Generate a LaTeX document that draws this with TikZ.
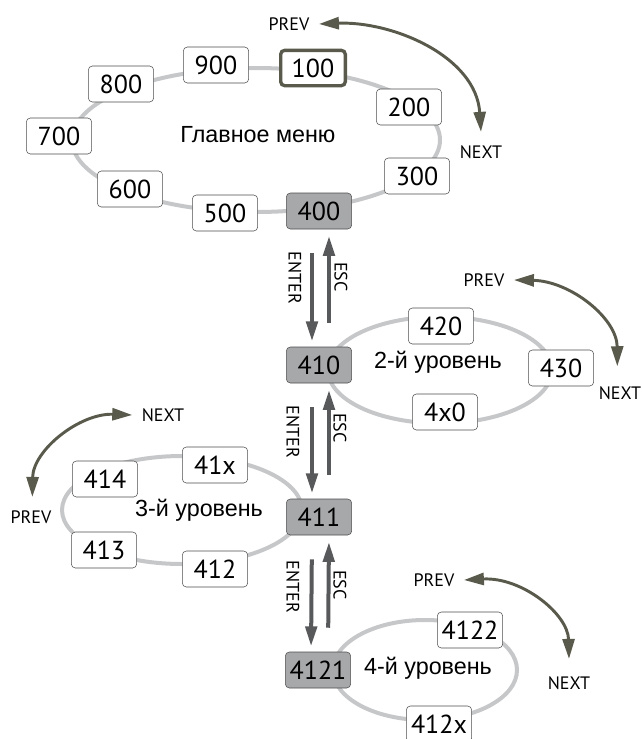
\documentclass[tikz,border=0pt]{standalone}
\usepackage{fontspec}
\setmainfont{PT Sans}
\newfontfamily\titlefont{Liberation Sans}
\usepackage{tikz}
\usetikzlibrary{arrows.meta, positioning, calc}
\usepackage{xcolor}
\definecolor{boxgray}{HTML}{A7A8AA}
\definecolor{ringgray}{HTML}{C6C7C9}
\definecolor{navdark}{HTML}{595A4B}
\definecolor{keygray}{HTML}{58595B}

\begin{document}
\begin{tikzpicture}[x=0.75pt, y=-0.75pt,
    item/.style={draw=black!70, rounded corners=3pt, fill=white, minimum width=49pt, minimum height=27pt, inner sep=0pt, font=\fontsize{19.5}{22}\selectfont},
    active/.style={item, fill=boxgray},
    current/.style={item, draw=navdark, line width=2.5pt, minimum width=48.5pt, minimum height=26.5pt},
    ring/.style={draw=ringgray, line width=3pt},
    title/.style={font=\titlefont\fontsize{17.5}{20}\selectfont, text height=13pt, text depth=4pt},
    navlabel/.style={font=\fontsize{13.5}{15}\selectfont, inner sep=7pt},
    nav/.style={draw=navdark, line width=2.2pt, {Triangle[length=15pt,width=9pt]}-{Triangle[length=15pt,width=9pt]}},
    key/.style={draw=keygray, line width=3pt, -{Triangle[length=15pt,width=8.5pt]}},
    keylabel/.style={font=\fontsize{13.5}{15}\selectfont, rotate=-90, inner sep=0pt}
]
    \useasboundingbox (0,0) rectangle (642,739);

    % Rings
    \draw[ring] (256,140) ellipse [x radius=138pt, y radius=54pt];
    \draw[ring] (440,370) ellipse [x radius=84pt, y radius=40pt];
    \draw[ring] (182,510) ellipse [x radius=90pt, y radius=40.5pt];
    \draw[ring] (425,670) ellipse [x radius=69pt, y radius=37.5pt];

    % Main menu
    \node[title] (main) at (258,136) {Главное меню};
    \node[current] (b100) at (313,68) {100};
    \node[item] (b200) at (409,107) {200};
    \node[item] (b300) at (417,176) {300};
    \node[active] (b400) at (319,211) {400};
    \node[item] (b500) at (225,213) {500};
    \node[item] (b600) at (130,189) {600};
    \node[item] (b700) at (59,136) {700};
    \node[item] (b800) at (121,84) {800};
    \node[item] (b900) at (216,65) {900};

    % Level 2
    \node[title] (lev2) at (438,362) {2-й уровень};
    \node[active] (b410) at (319,365) {410};
    \node[item] (b420) at (441,326) {420};
    \node[item] (b430) at (561,368) {430};
    \node[item] (b4x0) at (445,412) {4x0};

    % Level 3
    \node[title] (lev3) at (199,510) {3-й уровень};
    \node[active] (b411) at (319,517) {411};
    \node[item] (b41x) at (215,465) {41x};
    \node[item] (b414) at (105,479) {414};
    \node[item] (b413) at (104,550) {413};
    \node[item] (b412) at (215,569) {412};

    % Level 4
    \node[title] (lev4) at (428,668) {4-й уровень};
    \node[active] (b4121) at (318,670) {4121};
    \node[item] (b4122) at (470,630) {4122};
    \node[item] (b412x) at (439,724) {412x};

    % PREV / NEXT
    \node[navlabel] (prev1) at (289,24) {PREV};
    \node[navlabel] (next1) at (481,152) {NEXT};
    \draw[nav] (prev1.east) .. controls (392,21) and (476,56) .. ([yshift=3pt]next1.north);
    \node[navlabel] (prev2) at (484,280) {PREV};
    \node[navlabel] (next2) at (620,393) {NEXT};
    \draw[nav] (prev2.east) .. controls (570,281) and (617,318) .. ([xshift=-2pt,yshift=8pt]next2.north);
    \node[navlabel] (next3) at (163,415) {NEXT};
    \node[navlabel] (prev3) at (31,517) {PREV};
    \draw[nav] (next3.west) .. controls (80,413) and (33,450) .. ([xshift=1pt,yshift=3pt]prev3.north);
    \node[navlabel] (prev4) at (434,580) {PREV};
    \node[navlabel] (next4) at (569,683) {NEXT};
    \draw[nav] (prev4.east) .. controls (522,577) and (568,614) .. ([yshift=6pt]next4.north);

    % ENTER / ESC
    \draw[key, shorten <=18pt, shorten >=4pt] ([xshift=-5.25pt]b400.south) -- ([xshift=-5.25pt]b410.north);
    \draw[key, shorten <=18pt, shorten >=5pt] ([xshift=7.5pt]b410.north) -- ([xshift=7.5pt]b400.south);
    \draw[key, shorten <=18pt, shorten >=4pt] ([xshift=-5.25pt]b410.south) -- ([xshift=-5.25pt]b411.north);
    \draw[key, shorten <=18pt, shorten >=5pt] ([xshift=7.5pt]b411.north) -- ([xshift=7.5pt]b410.south);
    \draw[key, shorten <=18pt, shorten >=4pt] ([xshift=-5.25pt]b411.south) -- ([xshift=-5.25pt]b4121.north);
    \draw[key, shorten <=18pt, shorten >=5pt] ([xshift=7.5pt]b4121.north) -- ([xshift=7.5pt]b411.south);
    \node[keylabel] (enter1) at (295,278) {ENTER};
    \node[keylabel] (esc1) at (341,277) {ESC};
    \node[keylabel] (enter2) at (293,432) {ENTER};
    \node[keylabel] (esc2) at (340,428) {ESC};
    \node[keylabel] (enter3) at (293,587) {ENTER};
    \node[keylabel] (esc3) at (340,585) {ESC};
\end{tikzpicture}
\end{document}
